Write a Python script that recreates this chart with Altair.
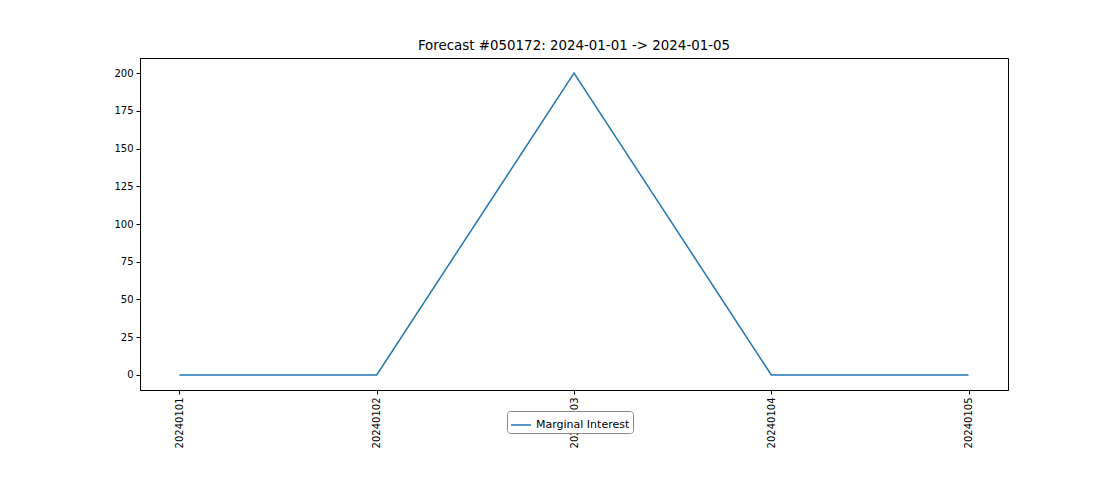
import altair as alt
import pandas as pd

dates = ["20240101", "20240102", "20240103", "20240104", "20240105"]
values = [0, 0, 200, 0, 0]
series = ["Marginal Interest"] * 5

df = pd.DataFrame({"date": dates, "value": values, "series": series})

font = "DejaVu Sans"
chart = alt.Chart(df).mark_line(color="#1f77b4", strokeWidth=1.5).encode(
    x=alt.X("date:O", sort=dates, title=None,
            scale=alt.Scale(type="point", padding=0.2),
            axis=alt.Axis(labelAngle=270, labelFont=font, labelFontSize=10,
                          labelColor="black", tickColor="black", domainColor="black",
                          grid=False, tickSize=4, labelPadding=3)),
    y=alt.Y("value:Q", title=None,
            scale=alt.Scale(domain=[-10, 210], nice=False, zero=False),
            axis=alt.Axis(values=list(range(0, 201, 25)), labelFont=font, labelFontSize=10,
                          labelColor="black", tickColor="black", domainColor="black",
                          grid=False, tickSize=4, labelPadding=3)),
    color=alt.Color("series:N", scale=alt.Scale(range=["#1f77b4"]),
                    legend=alt.Legend(title=None, orient="none", legendX=367, legendY=353,
                                      symbolType="stroke", symbolStrokeWidth=1.5, symbolSize=400,
                                      labelFont=font, labelFontSize=11, labelColor="black",
                                      strokeColor="#888", fillColor="white", padding=3,
                                      cornerRadius=3)),
).properties(
    width=868, height=332,
    title=alt.Title("Forecast #050172: 2024-01-01 -> 2024-01-05", font=font,
                    fontSize=13.4, fontWeight="normal", color="black", offset=6),
    autosize=alt.AutoSizeParams(type="none"),
    padding={"left": 132, "top": 50, "right": 104, "bottom": 82},
).configure_view(stroke="black", strokeWidth=1)

chart.save("out.html", embed_options={"renderer": "svg", "actions": False})
